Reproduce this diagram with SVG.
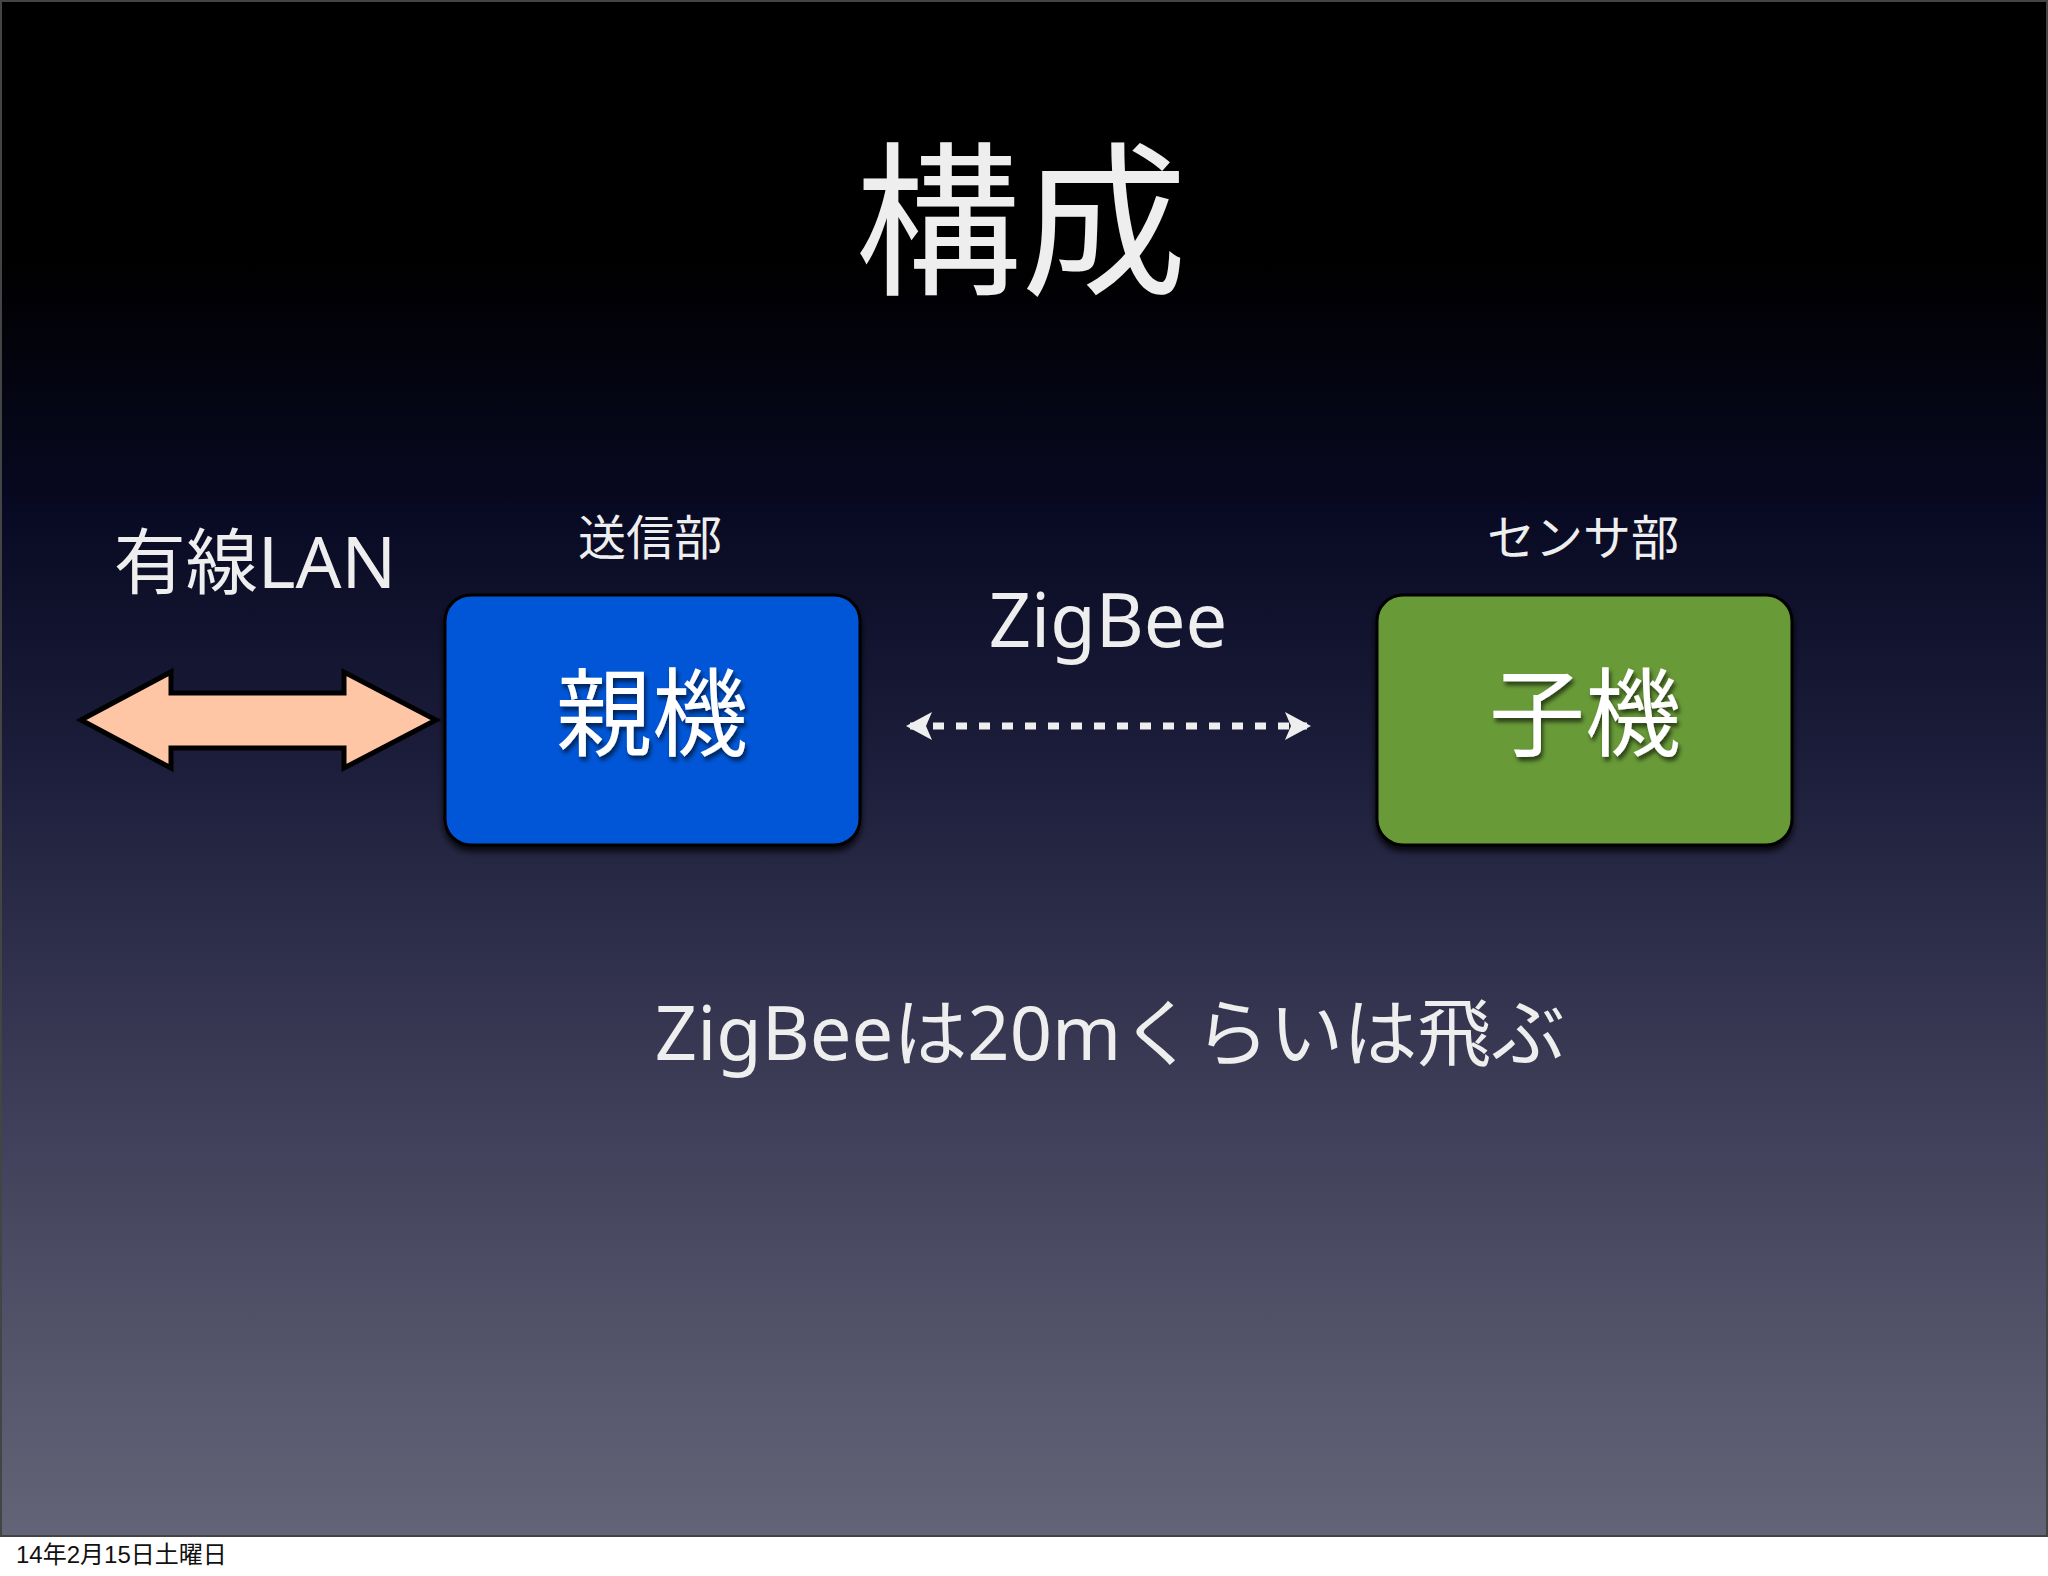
<svg xmlns="http://www.w3.org/2000/svg" width="2048" height="1576" viewBox="0 0 2048 1576">
  <defs>
    <linearGradient id="bg" x1="0" y1="0" x2="0" y2="1">
      <stop offset="0" stop-color="#000000"/>
      <stop offset="0.17" stop-color="#000000"/>
      <stop offset="0.33" stop-color="#080922"/>
      <stop offset="0.5" stop-color="#1d1e3b"/>
      <stop offset="0.7" stop-color="#3b3b56"/>
      <stop offset="1" stop-color="#646478"/>
    </linearGradient>
    <filter id="boxShadow" x="-10%" y="-10%" width="120%" height="130%">
      <feGaussianBlur in="SourceAlpha" stdDeviation="3"/>
      <feOffset dx="0" dy="5" result="b"/>
      <feComponentTransfer><feFuncA type="linear" slope="0.8"/></feComponentTransfer>
      <feMerge><feMergeNode/><feMergeNode in="SourceGraphic"/></feMerge>
    </filter>
    <filter id="textShadow" x="-10%" y="-10%" width="120%" height="130%">
      <feGaussianBlur in="SourceAlpha" stdDeviation="2"/>
      <feOffset dx="2" dy="4"/>
      <feComponentTransfer><feFuncA type="linear" slope="0.6"/></feComponentTransfer>
      <feMerge><feMergeNode/><feMergeNode in="SourceGraphic"/></feMerge>
    </filter>
    <marker id="dashHead" viewBox="0 0 26 28" refX="22" refY="14" markerWidth="26" markerHeight="28" markerUnits="userSpaceOnUse" orient="auto-start-reverse">
      <path d="M0,0 L26,14 L0,28 L6,14 Z" fill="#eeeeee"/>
    </marker>
  </defs>
  <style>
    .jp { font-family: "Noto Sans", "Noto Sans CJK JP", sans-serif; fill: #eeeeee; }
    .box { stroke: #000000; stroke-width: 3; }
    .boxlabel { font-size: 96px; text-anchor: middle; fill: #ffffff; }
    .sub { font-size: 48px; text-anchor: middle; }
  </style>

  <rect x="0" y="0" width="2048" height="1576" fill="#ffffff"/>
  <rect x="1" y="1" width="2046" height="1535" fill="url(#bg)" stroke="#444444" stroke-width="2"/>

  <g id="title">
    <text class="jp" x="1021" y="282" font-size="166" text-anchor="middle">構成</text>
  </g>

  <g id="wired-lan-label">
    <text class="jp" x="255" y="588" font-size="72" text-anchor="middle">有線LAN</text>
  </g>

  <g id="sender-label">
    <text class="jp sub" x="650" y="555">送信部</text>
  </g>

  <g id="sensor-label">
    <text class="jp sub" x="1583" y="555">センサ部</text>
  </g>

  <g id="zigbee-label">
    <text class="jp" x="1108" y="647" font-size="74" text-anchor="middle">ZigBee</text>
  </g>

  <g id="parent-node">
    <rect class="box" x="445" y="595" width="415" height="250" rx="26" fill="#0256d6" filter="url(#boxShadow)"/>
    <text class="jp boxlabel" x="652" y="748" filter="url(#textShadow)">親機</text>
  </g>

  <g id="child-node">
    <rect class="box" x="1377" y="595" width="415" height="250" rx="26" fill="#679a38" filter="url(#boxShadow)"/>
    <text class="jp boxlabel" x="1585" y="748" filter="url(#textShadow)">子機</text>
  </g>

  <g id="connectors">
    <path id="lan-arrow" d="M81,720 L171,672 L171,693 L344,693 L344,672 L436,720 L344,768 L344,748 L171,748 L171,768 Z" fill="#ffc6a6" stroke="#000000" stroke-width="5" stroke-linejoin="miter"/>
    <line id="zigbee-link" x1="910" y1="726" x2="1307" y2="726" stroke="#eeeeee" stroke-width="7" stroke-dasharray="11 12" marker-start="url(#dashHead)" marker-end="url(#dashHead)"/>
  </g>

  <g id="footnote">
    <text class="jp" x="1110" y="1060" font-size="74" text-anchor="middle">ZigBeeは20mくらいは飛ぶ</text>
  </g>

  <g id="date">
    <text x="16" y="1563" font-size="24" fill="#111111" font-family="Liberation Sans, Noto Sans CJK JP, sans-serif">14年2月15日土曜日</text>
  </g>
</svg>
